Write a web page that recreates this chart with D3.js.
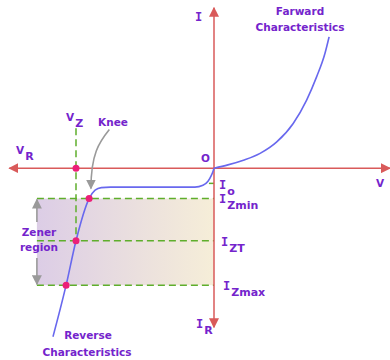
<!DOCTYPE html>
<html>
<head>
<meta charset="utf-8">
<script src="https://cdn.jsdelivr.net/npm/d3@7"></script>
<style>
  body { margin: 0; background: #fff; }
  text { font-family: 'Comic Sans MS', 'DejaVu Sans', sans-serif; fill: #7424cc; font-weight: bold; }
  .big { font-family: 'DejaVu Sans Mono', monospace; }
</style>
</head>
<body>
<div id="chart"></div>
<script>
// key levels (V in volts, I in mA, arbitrary)
const vZ = -6
const iO = -6.5
const iZmin = -13
const iZT = -31
const iZmax = -50
const vRange = [-8.9, 7.6]
const iRange = [-68, 68.5]

// curve points
const reverseCurve = [
  [-7.0, -72], [-6.43, -50], [-6.0, -31], [-5.43, -13], [-5.17, -9.4],
  [-4.9, -8.3], [-4.5, -8.1], [-2.5, -8.1], [-0.83, -8.1], [-0.48, -7.3],
  [-0.26, -5.6], [-0.13, -3.4], [-0.04, -1.3], [0, 0]
]
const forwardCurve = [
  [0, 0], [0.6, 1.4], [1.27, 3.4], [1.99, 6.3], [2.71, 11.2], [3.42, 19.1],
  [4.0, 29.1], [4.43, 39.0], [4.79, 49.0], [4.97, 56.1]
]
const dots = [[vZ, 0], [-5.43, iZmin], [vZ, iZT], [-6.43, iZmax]]

let svgWidth = 390,
  svgHeight = 360

let svg = d3
  .select('#chart')
  .append('svg')
  .attr('width', svgWidth)
  .attr('height', svgHeight)

let x = d3.scaleLinear().domain([-9, 0, 7.6]).range([7, 214, 390])
let y = d3.scaleLinear().domain([-70, 68]).range([332, 9])

let defs = svg.append('defs')
function marker(id, color) {
  defs
    .append('marker')
    .attr('id', id)
    .attr('viewBox', '0 0 10 10')
    .attr('refX', 9)
    .attr('refY', 5)
    .attr('markerWidth', 10)
    .attr('markerHeight', 10)
    .attr('markerUnits', 'userSpaceOnUse')
    .attr('orient', 'auto')
    .append('path')
    .attr('d', 'M0,0 L10,5 L0,10 Z')
    .attr('fill', color)
}
marker('redArrow', '#d95a5a')
marker('grayArrow', '#9a9a9a')

let grad = defs
  .append('linearGradient')
  .attr('id', 'zoneGrad')
  .attr('x1', '0%')
  .attr('x2', '100%')
grad.append('stop').attr('offset', '0%').attr('stop-color', '#dccde6')
grad.append('stop').attr('offset', '100%').attr('stop-color', '#f6eed8')

// Zener region box
let boxLeft = x(-7.7)
svg
  .append('rect')
  .attr('x', boxLeft)
  .attr('y', y(iZmin))
  .attr('width', x(0) - boxLeft)
  .attr('height', y(iZmax) - y(iZmin))
  .attr('fill', 'url(#zoneGrad)')

// green dashed guides
const green = '#5fae2c'
;[iZmin, iZT, iZmax].forEach((v) => {
  svg
    .append('line')
    .attr('x1', boxLeft)
    .attr('x2', x(0))
    .attr('y1', y(v))
    .attr('y2', y(v))
    .attr('stroke', green)
    .attr('stroke-width', 1.5)
    .attr('stroke-dasharray', '7,4')
})
svg
  .append('line')
  .attr('x1', x(vZ))
  .attr('x2', x(vZ))
  .attr('y1', y(17))
  .attr('y2', y(iZT))
  .attr('stroke', green)
  .attr('stroke-width', 1.5)
  .attr('stroke-dasharray', '7,4')
svg
  .append('line')
  .attr('x1', x(-0.22))
  .attr('x2', x(0))
  .attr('y1', y(iO))
  .attr('y2', y(iO))
  .attr('stroke', green)
  .attr('stroke-width', 1.5)

// axes
const red = '#d95a5a'
function axisLine(x1, y1, x2, y2) {
  svg
    .append('line')
    .attr('x1', x1)
    .attr('y1', y1)
    .attr('x2', x2)
    .attr('y2', y2)
    .attr('stroke', red)
    .attr('stroke-width', 1.5)
    .attr('marker-end', 'url(#redArrow)')
}
axisLine(x(0), y(0), x(vRange[0]), y(0))
axisLine(x(0), y(0), x(vRange[1]), y(0))
axisLine(x(0), y(0), x(0), y(iRange[1]))
axisLine(x(0), y(0), x(0), y(iRange[0]))

// characteristic curves
let line = d3
  .line()
  .x((d) => x(d[0]))
  .y((d) => y(d[1]))
  .curve(d3.curveMonotoneX)
;[reverseCurve, forwardCurve].forEach((c) => {
  svg
    .append('path')
    .datum(c)
    .attr('d', line)
    .attr('fill', 'none')
    .attr('stroke', '#6868ee')
    .attr('stroke-width', 1.6)
})

svg
  .selectAll('.dot')
  .data(dots)
  .enter()
  .append('circle')
  .attr('cx', (d) => x(d[0]))
  .attr('cy', (d) => y(d[1]))
  .attr('r', 3.5)
  .attr('fill', '#ec1f78')

// gray arrows
const gray = '#9a9a9a'
let kp = d3.path()
kp.moveTo(x(-4.55), y(16.5))
kp.bezierCurveTo(x(-5.0), y(11), x(-5.35), y(6), x(-5.35), y(-8.7))
svg
  .append('path')
  .attr('d', kp.toString())
  .attr('fill', 'none')
  .attr('stroke', gray)
  .attr('stroke-width', 1.6)
  .attr('marker-end', 'url(#grayArrow)')

svg
  .append('line')
  .attr('x1', boxLeft)
  .attr('x2', boxLeft)
  .attr('y1', 222)
  .attr('y2', y(iZmin) + 1)
  .attr('stroke', gray)
  .attr('stroke-width', 1.6)
  .attr('marker-end', 'url(#grayArrow)')
svg
  .append('line')
  .attr('x1', boxLeft)
  .attr('x2', boxLeft)
  .attr('y1', 258)
  .attr('y2', y(iZmax) - 1)
  .attr('stroke', gray)
  .attr('stroke-width', 1.6)
  .attr('marker-end', 'url(#grayArrow)')

// labels
function label(tx, ty, main, sub, anchor) {
  let t = svg
    .append('text')
    .attr('x', tx)
    .attr('y', ty)
    .attr('font-size', 10.5)
    .attr('text-anchor', anchor || 'start')
  let m = t.append('tspan').text(main)
  if (main == 'I') m.attr('class', 'big').attr('font-size', 12)
  if (sub) {
    t.append('tspan').attr('dy', 6).attr('dx', 1).attr('font-size', 11).text(sub)
  }
  return t
}
label(195, 21, 'I')
label(300, 15, 'Farward', null, 'middle')
label(300, 31, 'Characteristics', null, 'middle')
label(201, 162, 'O')
label(376, 187, 'V')
label(16, 154, 'V', 'R')
label(66, 121, 'V', 'Z')
label(113, 126, 'Knee', null, 'middle')
label(219, 189, 'I', 'o')
label(219, 203, 'I', 'Zmin')
label(221, 246, 'I', 'ZT')
label(223, 290, 'I', 'Zmax')
label(196, 328, 'I', 'R')
label(39, 236, 'Zener', null, 'middle')
label(39, 251, 'region', null, 'middle')
label(88, 339, 'Reverse', null, 'middle')
label(87, 356, 'Characteristics', null, 'middle')
</script>
</body>
</html>
